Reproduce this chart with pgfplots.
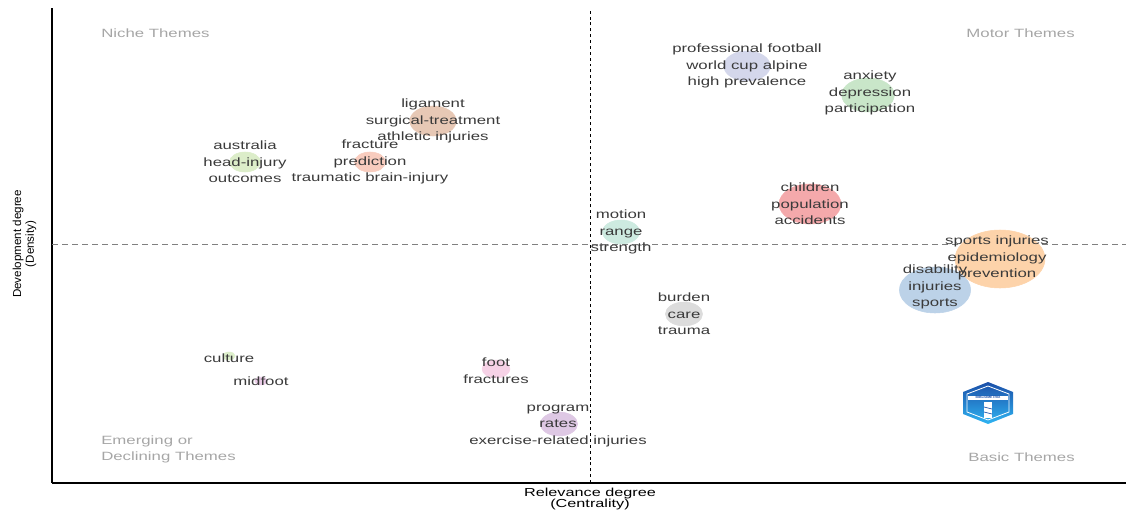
\documentclass[border=0pt]{standalone}
\usepackage{fontspec}
\usepackage{pgfplots}
\pgfplotsset{compat=1.18}
\setmainfont{Liberation Sans}
\newfontfamily\wide[FakeStretch=1.4]{Liberation Sans}

\definecolor{lbl}{HTML}{3A3A3A}
\definecolor{quad}{HTML}{A6A6A6}
\definecolor{cProf}{HTML}{D4D7EB}
\definecolor{cAnx}{HTML}{C9E6C9}
\definecolor{cChild}{HTML}{F4A9AB}
\definecolor{cMotion}{HTML}{CDEAE0}
\definecolor{cSport}{HTML}{FDD3AA}
\definecolor{cDisab}{HTML}{BCD2E8}
\definecolor{cBurden}{HTML}{DCDCDC}
\definecolor{cProg}{HTML}{DEC8E4}
\definecolor{cFoot}{HTML}{F6D2E6}
\definecolor{cCult}{HTML}{DDEFCB}
\definecolor{cMid}{HTML}{EBCDE8}
\definecolor{cAus}{HTML}{DCEDC9}
\definecolor{cFrac}{HTML}{F8CCBE}
\definecolor{cLig}{HTML}{E7C8B5}
\definecolor{logoA}{HTML}{1B4FA8}
\definecolor{logoB}{HTML}{2FB4F2}

% one cluster bubble: x, y, radius (pt), fill colour
\newcommand\bubble[4]{%
  \addplot[only marks, color=#4, mark=*, mark size=#3,
    mark options={draw=#4, fill=#4, xscale=1.55}]
    coordinates {(#1,#2)};}
% cluster label
\newcommand\clabel[3]{%
  \node[align=center, inner sep=0pt, text=lbl,
    font=\wide\fontsize{9}{12.4}\selectfont] at (axis cs:#1,#2) {#3};}

\begin{document}
\begin{tikzpicture}
\begin{axis}[
  set layers,
  at={(39pt,24pt)}, anchor=south west,
  scale only axis, width=805.5pt, height=356.25pt,
  xmin=52, xmax=1126, ymin=32, ymax=507,
  axis lines=left,
  axis line style={-, line width=0.8pt, black},
  xtick=\empty, ytick=\empty,
  clip=false,
]
% quadrant dividers
\addplot[black, line width=0.7pt, dash pattern=on 2.2pt off 2.2pt]
  coordinates {(590,32) (590,507)};
\addplot[gray, line width=0.7pt, dash pattern=on 4.5pt off 3pt]
  coordinates {(52,271) (1126,271)};

% clusters (centrality, density, size)
\bubble{747}{449}{11.25pt}{cProf}
\bubble{868}{420}{12.75pt}{cAnx}
\bubble{810}{311}{15pt}{cChild}
\bubble{621}{283}{9pt}{cMotion}
\bubble{1000}{256}{21.75pt}{cSport}
\bubble{935}{225}{17.25pt}{cDisab}
\bubble{684}{201}{9pt}{cBurden}
\bubble{559}{91}{9pt}{cProg}
\bubble{496}{146}{6.75pt}{cFoot}
\bubble{229}{159}{3pt}{cCult}
\bubble{261}{134}{3pt}{cMid}
\bubble{245}{353}{7.5pt}{cAus}
\bubble{370}{353}{7.5pt}{cFrac}
\bubble{433}{394}{11.25pt}{cLig}

% cluster labels, kept above the bubbles
\begin{pgfonlayer}{axis foreground}
\clabel{747}{449}{professional football\\world cup alpine\\high prevalence}
\clabel{870}{422}{anxiety\\depression\\participation}
\clabel{810}{311}{children\\population\\accidents}
\clabel{621}{283}{motion\\range\\strength}
\clabel{997}{257}{sports injuries\\epidemiology\\prevention}
\clabel{935}{228}{disability\\injuries\\sports}
\clabel{684}{201}{burden\\care\\trauma}
\clabel{558}{89}{program\\rates\\exercise-related injuries}
\clabel{496}{144.5}{foot\\fractures}
\clabel{229}{157}{culture}
\clabel{261}{134}{midfoot}
\clabel{245}{353}{australia\\head-injury\\outcomes}
\clabel{370}{353}{fracture\\prediction\\traumatic brain-injury}
\clabel{433}{394}{ligament\\surgical-treatment\\athletic injuries}
\end{pgfonlayer}

% quadrant names
\node[anchor=west, inner sep=0pt, text=quad, font=\wide\fontsize{9}{12}\selectfont]
  at (axis cs:101,482) {Niche Themes};
\node[anchor=east, inner sep=0pt, text=quad, font=\wide\fontsize{9}{12}\selectfont]
  at (axis cs:1075,482) {Motor Themes};
\node[anchor=west, align=left, inner sep=0pt, text=quad, font=\wide\fontsize{9}{12}\selectfont]
  at (axis cs:101,66) {Emerging or\\Declining Themes};
\node[anchor=east, inner sep=0pt, text=quad, font=\wide\fontsize{9}{12}\selectfont]
  at (axis cs:1075,58) {Basic Themes};

% bibliometrix badge
\shade[top color=logoA, bottom color=logoB]
  (axis cs:988,133) -- (axis cs:1013,123) -- (axis cs:1013,101)
  -- (axis cs:988,91) -- (axis cs:963,101) -- (axis cs:963,123) -- cycle;
\draw[white, line width=0.6pt]
  (axis cs:988,129) -- (axis cs:1009,121) -- (axis cs:1009,103)
  -- (axis cs:988,95) -- (axis cs:967,103) -- (axis cs:967,121) -- cycle;
\fill[white] (axis cs:968,119.5) rectangle (axis cs:1008,115);
\node[inner sep=0pt, text=logoA, font=\bfseries\fontsize{2.6}{3}\selectfont]
  at (axis cs:988,117.2) {BIBLIOMETRIX};
\fill[white] (axis cs:984,113) rectangle (axis cs:992,97);
\draw[logoA, line width=0.5pt] (axis cs:984,108) -- (axis cs:992,106)
  (axis cs:984,103) -- (axis cs:992,101);
\end{axis}

% axis titles
\node[align=center, inner sep=0pt, font=\wide\fontsize{8.7}{8.6}\selectfont]
  at (442.5pt,12pt) {Relevance degree\\(Centrality)};
\node[rotate=90, align=center, inner sep=0pt, font=\fontsize{8.7}{9.6}\selectfont]
  at (18.4pt,203.25pt) {Development degree\\(Density)};

% page frame
\pgfresetboundingbox
\path[use as bounding box] (0,0) rectangle (844.5pt,386.25pt);
\end{tikzpicture}
\end{document}
